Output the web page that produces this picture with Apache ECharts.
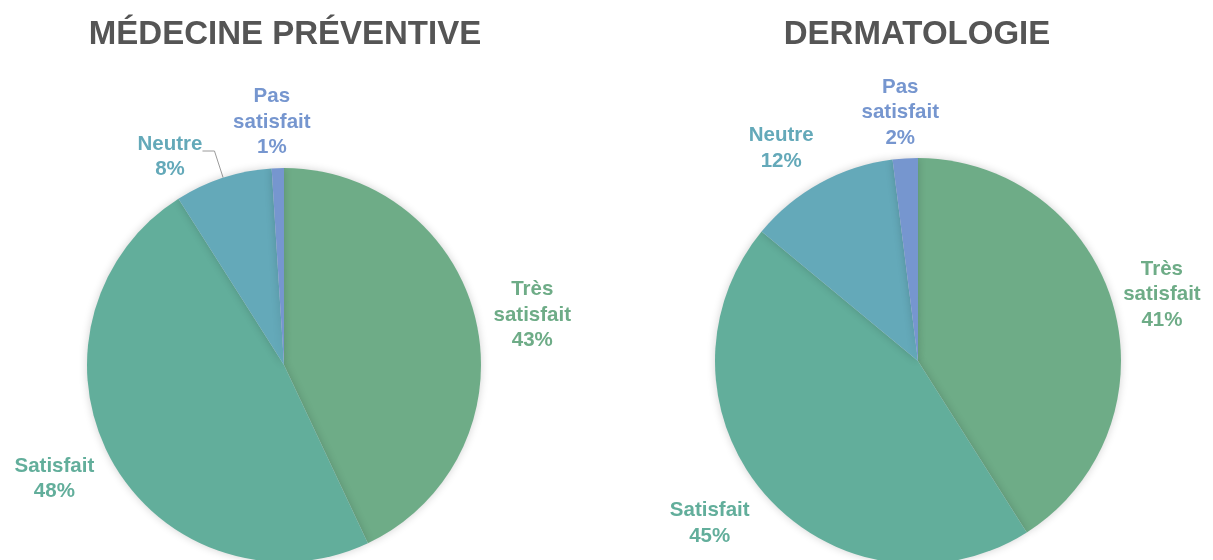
<!DOCTYPE html>
<html><head><meta charset="utf-8">
<script src="https://cdn.jsdelivr.net/npm/echarts@6/dist/echarts.min.js"></script>
<style>html,body{margin:0;padding:0;background:#fff}#c{width:1213px;height:560px}</style>
</head><body><div id="c"></div>
<script>
const categories = ['Très\nsatisfait', 'Satisfait', 'Neutre', 'Pas\nsatisfait'];
const titles = ['MÉDECINE PRÉVENTIVE', 'DERMATOLOGIE'];
const valuesMedecine = [43, 48, 8, 1];
const valuesDermato = [41, 45, 12, 2];
const colors = ['#6EAC87', '#62AE9B', '#64A9B9', '#7696CF'];

// label offsets (styling) per pie, per slice; null = keep default leader-line placement
const labelOffsets = [
  [[51, -7], [-52, 19], null, [-1, -46]],
  [[44, -10], [-51, 28], [-34, -35], [0, -46]]
];
const showLine = [[false, false, true, false], [false, false, false, false]];
const FONT = 'Liberation Sans, Arial, Helvetica, sans-serif';

function makeSeries(idx, values, center, radius) {
  return {
    type: 'pie',
    center: center,
    radius: radius,
    startAngle: 90,
    clockwise: true,
    avoidLabelOverlap: false,
    silent: true,
    itemStyle: { shadowBlur: 8, shadowColor: 'rgba(0,0,0,0.18)' },
    label: {
      position: 'outside',
      distance: 0,
      fontFamily: FONT,
      fontWeight: 'bold',
      fontSize: 20.5,
      lineHeight: 25.5,
      formatter: p => p.name + '\n' + p.value + '%'
    },
    labelLine: { show: false, length: 0, length2: 0, lineStyle: { color: '#9a9a9a', width: 1 } },
    labelLayout: p => {
      const o = labelOffsets[idx][p.dataIndex];
      if (!o) return {};
      return { align: 'center', verticalAlign: 'middle', dx: o[0], dy: o[1] };
    },
    data: values.map((v, i) => {
      const item = {
        name: categories[i],
        value: v,
        itemStyle: { color: colors[i] },
        label: { color: colors[i] },
        labelLine: { show: showLine[idx][i] }
      };
      if (showLine[idx][i]) {
        item.labelLine = { show: true, length: 28, length2: 12, lineStyle: { color: '#9a9a9a', width: 1 } };
        item.label = {
          color: colors[i],
          distanceToLabelLine: -1.5,
          padding: [12, 0, 0, 0],
          formatter: p => '{a|' + p.name + '}\n{a|' + p.value + '%}',
          rich: { a: { width: 68, align: 'center', color: colors[i], fontFamily: FONT, fontWeight: 'bold', fontSize: 20.5, lineHeight: 25.5 } }
        };
      }
      return item;
    })
  };
}

const chart = echarts.init(document.getElementById('c'), null, { renderer: 'canvas' });
chart.setOption({
  animation: false,
  title: [
    { text: titles[0], left: 280, top: 13, textAlign: 'center',
      textStyle: { fontFamily: FONT, fontWeight: 'bold', fontSize: 33, color: '#555555' } },
    { text: titles[1], left: 912, top: 13, textAlign: 'center',
      textStyle: { fontFamily: FONT, fontWeight: 'bold', fontSize: 33, color: '#555555' } }
  ],
  series: [
    makeSeries(0, valuesMedecine, [284, 365], 197),
    makeSeries(1, valuesDermato, [918, 361], 203)
  ]
});
</script></body></html>
